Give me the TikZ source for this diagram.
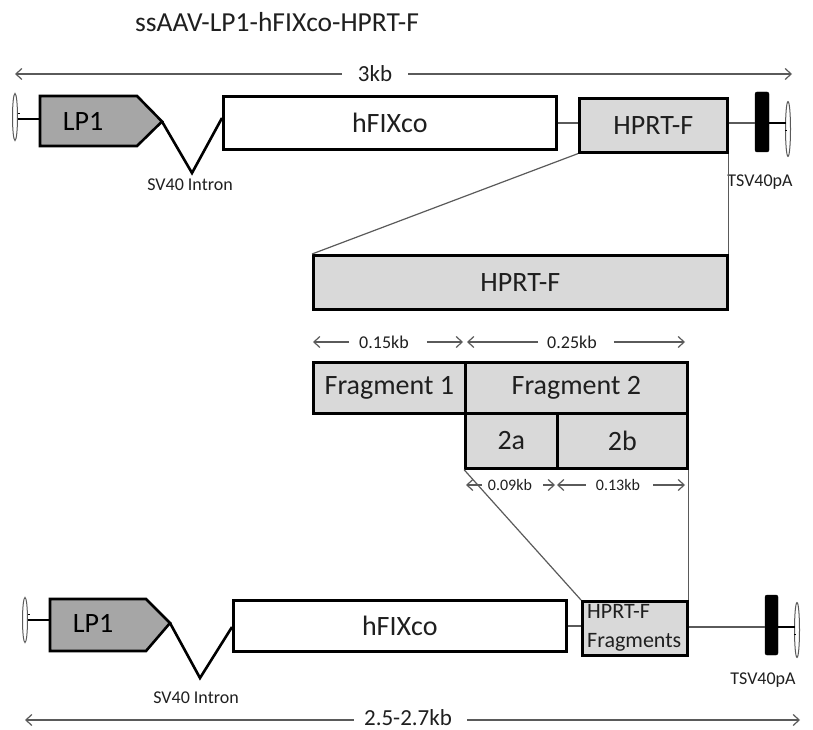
\documentclass[tikz,border=0pt]{standalone}
\usepackage{fontspec}
\setmainfont{Carlito}
\usetikzlibrary{arrows.meta,shapes.geometric}
\definecolor{txt}{HTML}{1F1F1F}
\definecolor{lgray}{HTML}{D9D9D9}
\definecolor{mgray}{HTML}{A6A6A6}
\definecolor{lnk}{HTML}{5A5A5A}
\tikzset{
  blk/.style={draw=black, line width=2.6pt, rectangle, inner sep=0pt, anchor=north west, text=txt},
  wbox/.style={blk, fill=white},
  gbox/.style={blk, fill=lgray},
  big/.style={font=\fontsize{28}{30}\selectfont},
  mid/.style={font=\fontsize{23}{25}\selectfont, text=txt},
  sml/.style={font=\fontsize{18}{20}\selectfont, text=txt},
  tiny/.style={font=\fontsize{16}{18}\selectfont, text=txt},
  thin/.style={draw=lnk, line width=1.2pt},
  dim/.style={draw=lnk, line width=1.2pt, -{Straight Barb[length=6pt,width=11pt]}},
  itr/.style={draw=lnk, line width=1pt, fill=white},
  vline/.style={draw=black, line width=2.6pt, line join=miter},
  pa/.style={draw=black, line width=1.8pt},
}
\begin{document}
\begin{tikzpicture}[x=1pt,y=-1pt]
\useasboundingbox (0,0) rectangle (813,730);

% title
\node[font=\fontsize{27.5}{30}\selectfont, text=txt] (title) at (277,22) {ssAAV-LP1-hFIXco-HPRT-F};

% ---------- top dimension ----------
\coordinate (t3l) at (15,74);
\coordinate (t3r) at (792,74);
\node[mid, inner xsep=16pt, inner ysep=0pt] (t3) at (375,74) {3kb};
\draw[dim] (t3.west) -- (t3l);
\draw[dim] (t3.east) -- (t3r);

% ---------- top construct ----------
\node[itr, ellipse, minimum width=5pt, minimum height=47pt, inner sep=0pt] (itr1) at (15,117) {};
\draw[pa] (17.5,119) -- (40,119);
\draw[black, line width=0.8pt] (18,113) -- (20,113);
\draw[blk, fill=mgray] (40,96) -- (137,96) -- (162,121.5) -- (137,146) -- (40,146) -- cycle;
\coordinate (lp1tip) at (162,121.5);
\node[big] (lp1) at (83,121) {LP1};
\node[wbox, big, minimum width=333pt, minimum height=53pt] (hfix) at (222,95) {hFIXco};
\coordinate (vbot1) at (192,173);
\draw[vline] (lp1tip) -- (vbot1) -- (hfix.west |- 0,118);
\node[sml] (sv1) at (190,185) {SV40 Intron};
\node[gbox, big, minimum width=148pt, minimum height=54pt] (hprt) at (578,97) {HPRT-F};
\draw[thin] (hfix.east |- 0,123) -- (hprt.west |- 0,123);
\node[draw=black, fill=black, rounded corners=2pt, minimum width=14pt, minimum height=60pt, inner sep=0pt] (bar1) at (762,122) {};
\draw[thin] (hprt.east |- 0,123) -- (bar1.west |- 0,123);
\node[itr, ellipse, minimum width=5pt, minimum height=55pt, inner sep=0pt] (itr2) at (788,129) {};
\draw[pa] (bar1.east |- 0,123) -- (785.5,123);
\draw[black, line width=0.8pt] (785,130) -- (787,130);
\node[sml] (ts1) at (760,182) {TSV40pA};

% ---------- HPRT-F zoom ----------
\node[gbox, big, minimum width=414pt, minimum height=54pt] (hprtbig) at (312,254) {HPRT-F};
\draw[thin] (hprt.south west) -- (hprtbig.north west);
\draw[thin] (hprt.south east) -- (hprtbig.north east);

% dimension 0.15 / 0.25
\coordinate (d1l) at (313,342);
\coordinate (d1r) at (463,342);
\node[tiny, font=\fontsize{18}{20}\selectfont, inner ysep=0pt, inner xsep=0pt] (d1) at (384,342) {0.15kb};
\draw[dim] ([xshift=-10pt]d1.west) -- (d1l);
\draw[dim] ([xshift=18pt]d1.east) -- (d1r);
\coordinate (d2l) at (467,342);
\coordinate (d2r) at (685,342);
\node[tiny, font=\fontsize{18}{20}\selectfont, inner ysep=0pt, inner xsep=0pt] (d2) at (572,342) {0.25kb};
\draw[dim] ([xshift=-9pt]d2.west) -- (d2l);
\draw[dim] ([xshift=17pt]d2.east) -- (d2r);

% fragments
\node[gbox, big, minimum width=152pt, minimum height=51pt] (f1) at (312,361) {Fragment 1};
\node[gbox, big, minimum width=222pt, minimum height=51pt] (f2) at (464,361) {Fragment 2};
\node[gbox, big, minimum width=92pt, minimum height=55pt] (f2a) at (464,412) {2a};
\node[gbox, big, minimum width=130pt, minimum height=55pt] (f2b) at (556,412) {2b};

% dimension 0.09 / 0.13
\coordinate (d3l) at (466,485);
\coordinate (d3r) at (555,485);
\node[tiny, inner ysep=0pt, inner xsep=0pt] (d3) at (510,485) {0.09kb};
\draw[dim] ([xshift=-6pt]d3.west) -- (d3l);
\draw[dim] ([xshift=11pt]d3.east) -- (d3r);
\coordinate (d4l) at (557,485);
\coordinate (d4r) at (685,485);
\node[tiny, inner ysep=0pt, inner xsep=0pt] (d4) at (618,485) {0.13kb};
\draw[dim] ([xshift=-10pt]d4.west) -- (d4l);
\draw[dim] ([xshift=13pt]d4.east) -- (d4r);

% ---------- bottom construct ----------
\node[itr, ellipse, minimum width=5pt, minimum height=45pt, inner sep=0pt] (itr3) at (25,620) {};
\draw[pa] (27.5,620) -- (50,620);
\draw[black, line width=0.8pt] (28,614) -- (30,614);
\draw[blk, fill=mgray] (50,599) -- (146,599) -- (170,623) -- (146,651) -- (50,651) -- cycle;
\coordinate (lp2tip) at (170,623);
\node[big] (lp2) at (93,623) {LP1};
\node[wbox, big, minimum width=333pt, minimum height=51pt] (hfix2) at (232,599) {hFIXco};
\coordinate (vbot2) at (200,678);
\draw[vline] (lp2tip) -- (vbot2) -- (hfix2.west |- 0,627);
\node[sml] (sv2) at (196,698) {SV40 Intron};
\node[gbox, minimum width=105pt, minimum height=54pt] (frag) at (581,600) {};
\node[font=\fontsize{22}{29}\selectfont, text=txt, align=left, anchor=west, inner sep=0pt] (fragtxt) at (587,628) {HPRT-F\\Fragments};
\draw[thin] (hfix2.east |- 0,626) -- (frag.west |- 0,626);
\draw[thin] (f2a.south west) -- (frag.north west);
\draw[thin] (f2b.south east) -- (frag.north east);
\node[draw=black, fill=black, rounded corners=2pt, minimum width=13pt, minimum height=60pt, inner sep=0pt] (bar2) at (771.5,625) {};
\draw[thin] (frag.east |- 0,627) -- (bar2.west |- 0,627);
\node[itr, ellipse, minimum width=5pt, minimum height=55pt, inner sep=0pt] (itr4) at (797,630) {};
\draw[pa] (bar2.east |- 0,627) -- (794.5,627);
\draw[black, line width=0.8pt] (794,634) -- (796,634);
\node[sml] (ts2) at (763,680) {TSV40pA};

% bottom dimension
\coordinate (b3l) at (25,720);
\coordinate (b3r) at (800,720);
\node[mid, inner ysep=0pt, inner xsep=0pt] (b3) at (408,717.5) {2.5-2.7kb};
\draw[dim] ([xshift=-10pt]b3.west |- b3l) -- (b3l);
\draw[dim] ([xshift=15pt]b3.east |- b3r) -- (b3r);
\end{tikzpicture}
\end{document}
